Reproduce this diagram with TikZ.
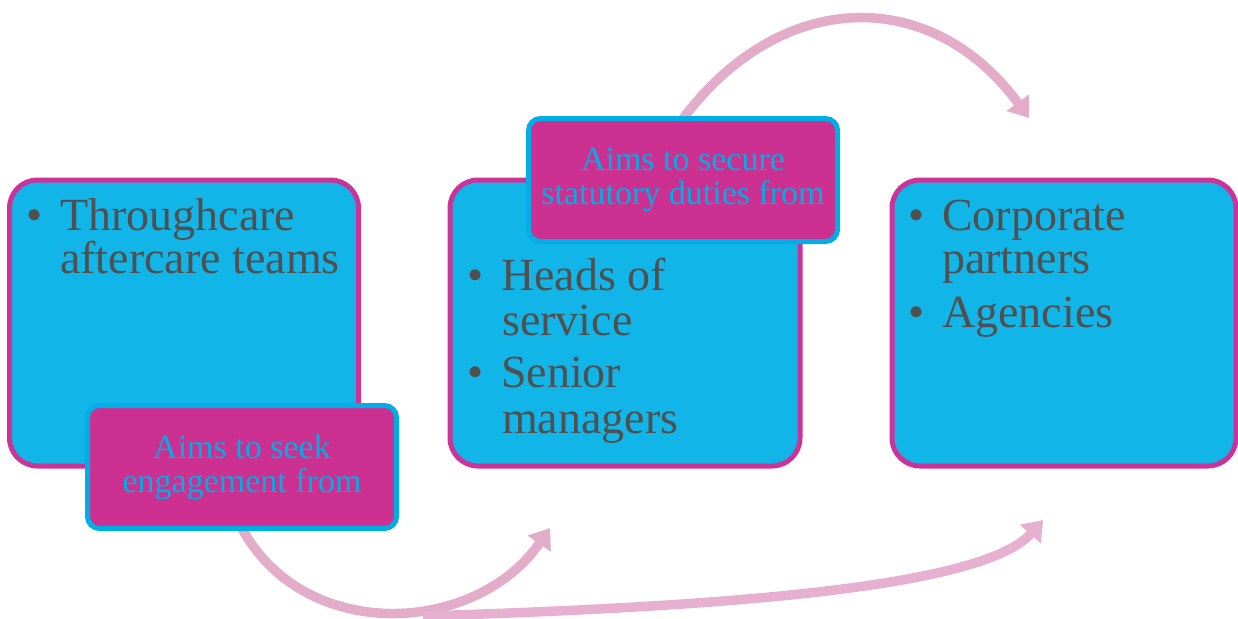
\documentclass[tikz,border=0pt]{standalone}
\usepackage{fontspec}
\setmainfont{Liberation Serif}
\usetikzlibrary{arrows.meta}
\definecolor{boxfill}{RGB}{18,181,232}
\definecolor{boxline}{RGB}{204,51,153}
\definecolor{labfill}{RGB}{204,48,145}
\definecolor{labline}{RGB}{0,174,230}
\definecolor{pinkA}{RGB}{227,172,200}
\definecolor{pinkC}{RGB}{232,176,208}
\definecolor{txtgray}{RGB}{80,80,80}
\pgfdeclarelayer{bg}
\pgfsetlayers{bg,main}
\tikzset{
  bigbox/.style={draw=boxline, fill=boxfill, line width=5pt, rounded corners=28pt,
    minimum height=286pt, inner sep=0pt, outer sep=0pt},
  labbox/.style={draw=labline, fill=labfill, line width=5pt, rounded corners=12pt,
    minimum width=309pt, minimum height=123pt, inner sep=0pt, outer sep=0pt,
    align=center, text=labline, font=\fontsize{34}{34}\selectfont},
  itemtxt/.style={anchor=base west, inner sep=0pt, text=txtgray,
    font=\fontsize{46}{44}\selectfont},
  flow/.style={line width=9.5pt, -{Triangle[length=19pt,width=27pt]}}
}
\newcommand{\bul}{\makebox[34pt][l]{\textbullet}}
\begin{document}
\begin{tikzpicture}[x=1pt,y=-1pt]
\useasboundingbox (0,0) rectangle (1238,618);
% main boxes
\node[bigbox, minimum width=349pt] (box1) at (184,323) {};
\node[bigbox, minimum width=350pt] (box2) at (625,323) {};
\node[bigbox, minimum width=344pt] (box3) at (1064,323) {};
% texts
\node[itemtxt] (t1a) at (26,230) {\bul Throughcare};
\node[itemtxt] (t1b) at (60,273) {aftercare teams};
\node[itemtxt] (t2a) at (467,290) {\bul Heads of};
\node[itemtxt] (t2b) at (502,335) {service};
\node[itemtxt] (t2c) at (467,387) {\bul Senior};
\node[itemtxt] (t2d) at (502,433) {managers};
\node[itemtxt] (t3a) at (908,230) {\bul Corporate};
\node[itemtxt] (t3b) at (942,273) {partners};
\node[itemtxt] (t3c) at (908,327) {\bul Agencies};
% label boxes
\node[labbox] (lab1) at (242,467) {Aims to seek\\engagement from};
\node[labbox] (lab2) at (683,180) {Aims to secure\\statutory duties from};
% arrow end points
\coordinate (tipA) at (1029,118);
\coordinate (tipB) at (550,528);
\coordinate (startC) at (423,616);
\coordinate (tipC) at (1043,520);
\begin{pgfonlayer}{bg}
\draw[flow, draw=pinkA] (lab2.north) .. controls (783,-14) and (933,-13) .. (tipA);
\draw[flow, draw=pinkA] (lab1.south) .. controls (305,644) and (476,635) .. (tipB);
\draw[flow, draw=pinkC] (startC) .. controls (750,606) and (985,585) .. (tipC);
\end{pgfonlayer}
\end{tikzpicture}
\end{document}
